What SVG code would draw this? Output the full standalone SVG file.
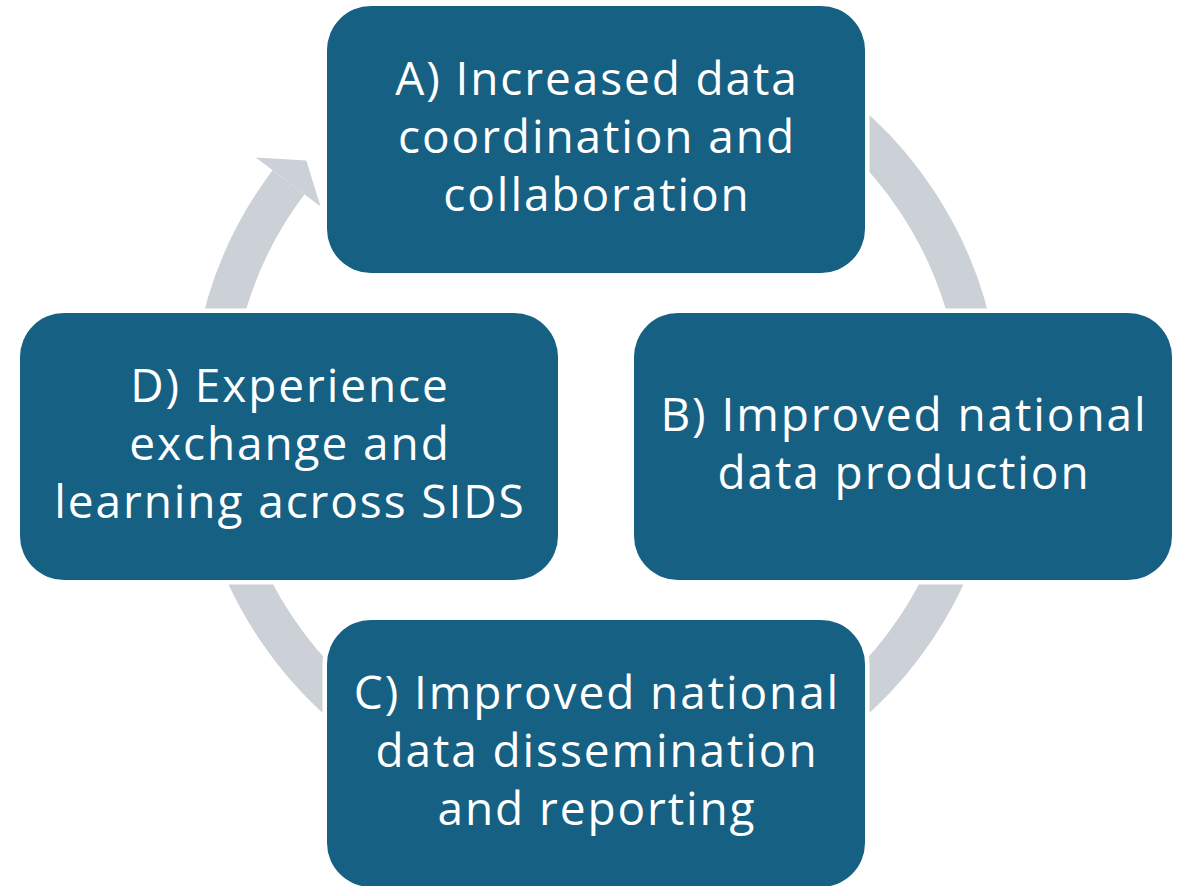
<svg xmlns="http://www.w3.org/2000/svg" width="1179" height="886" viewBox="0 0 1179 886">
  <style>
    .ring { fill: none; stroke: #ccd1d8; stroke-width: 40; stroke-linecap: butt; }
    .head { fill: #ccd1d8; }
    .pad { fill: #ffffff; }
    .box { fill: #166083; }
    .lbl { fill: #ffffff; font-family: "Open Sans", "Noto Sans", sans-serif; font-size: 46px; letter-spacing: 1.9px; text-anchor: middle; }
  </style>
  <rect width="1179" height="886" fill="#ffffff"/>
  <g id="connectors">
    <path class="ring" d="M464.3,52.2 A385,385 0 0 1 975.2,347.2"/>
    <path class="ring" d="M975.2,480.8 A385,385 0 0 1 464.3,775.8"/>
    <path class="ring" d="M727.7,775.8 A385,385 0 0 1 216.8,480.9"/>
    <path class="ring" d="M216.8,347.1 A385,385 0 0 1 288.5,182.3"/>
    <polygon class="head" points="255.8,157.6 306.3,160.4 320.5,206.4"/>
    <rect class="pad" x="322.5" y="1.5" width="547" height="276" rx="48"/>
    <rect class="pad" x="629.5" y="308.5" width="547" height="276" rx="48"/>
    <rect class="pad" x="322.5" y="615.5" width="547" height="276" rx="48"/>
    <rect class="pad" x="15.5" y="308.5" width="547" height="276" rx="48"/>
  </g>
  <g id="nodeA">
    <rect class="box" x="327" y="6" width="538" height="267" rx="44"/>
    <text class="lbl" x="597" y="95">A) Increased data</text>
    <text class="lbl" x="597" y="153">coordination and</text>
    <text class="lbl" x="597" y="211">collaboration</text>
  </g>
  <g id="nodeB">
    <rect class="box" x="634" y="313" width="538" height="267" rx="44"/>
    <text class="lbl" x="904" y="431">B) Improved national</text>
    <text class="lbl" x="904" y="489">data production</text>
  </g>
  <g id="nodeC">
    <rect class="box" x="327" y="620" width="538" height="267" rx="44"/>
    <text class="lbl" x="597" y="709">C) Improved national</text>
    <text class="lbl" x="597" y="767">data dissemination</text>
    <text class="lbl" x="597" y="825">and reporting</text>
  </g>
  <g id="nodeD">
    <rect class="box" x="20" y="313" width="538" height="267" rx="44"/>
    <text class="lbl" x="290" y="402">D) Experience</text>
    <text class="lbl" x="290" y="460">exchange and</text>
    <text class="lbl" x="290" y="518">learning across SIDS</text>
  </g>
</svg>
